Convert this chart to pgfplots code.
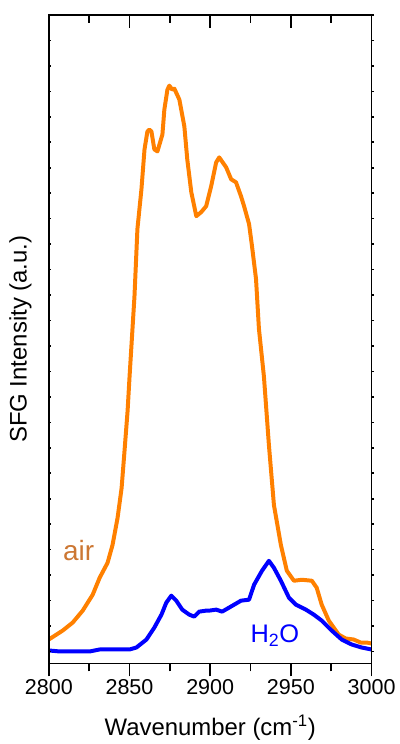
\documentclass[border=0pt]{standalone}
\usepackage{pgfplots}
\pgfplotsset{compat=1.18}
\usepackage{fontspec}
\setmainfont{Liberation Sans}
\definecolor{lineorange}{RGB}{255,128,0}
\definecolor{airtext}{RGB}{204,119,51}
\definecolor{lineblue}{RGB}{0,0,255}

\pgfplotstableread{
x y
2800 24
2808.6 33
2814.8 41
2821.0 53
2827.2 69
2831.5 86
2836.4 101
2839.5 119
2842.6 146
2845.1 176
2846.9 213
2848.8 253
2850.0 287
2853.1 369
2854.9 436
2857.4 476
2859.3 516
2861.1 534
2862.3 536
2863.6 534
2865.4 516
2867.3 514
2870.4 531
2871.6 556
2873.5 576
2874.7 580
2876.5 576
2877.8 577
2880.9 566
2884.0 539
2885.8 506
2888.3 473
2891.4 449
2894.4 453
2897.5 459
2900.6 479
2903.7 503
2905.6 508
2909.9 498
2913.0 486
2916.0 483
2919.1 469
2921.0 459
2924.1 441
2925.9 419
2928.4 386
2930.2 336
2933.3 288
2936.4 219
2939.5 159
2943.8 119
2947.5 93
2951.9 83
2956.8 84
2963.0 83
2966.0 76
2969.1 59
2973.5 43
2979.6 29
2984.0 25
2988.9 24
2993.2 21
2996.9 21
3000 20
}\airdata

\pgfplotstableread{
x y
2800 13
2806.8 12
2825.3 12
2831.5 14
2850.0 14
2854.3 16
2860.5 24
2865.4 36
2869.8 49
2872.8 61
2875.9 68
2879.0 63
2882.7 54
2887.0 49
2890.1 47
2893.2 52
2897.5 53
2899.4 53
2903.7 54
2907.4 52
2911.7 56
2919.1 63
2924.1 64
2927.2 79
2932.1 93
2936.4 103
2939.5 96
2943.8 83
2948.8 66
2953.1 59
2959.3 54
2964.2 49
2969.1 43
2975.3 33
2981.5 24
2987.7 19
2993.8 16
3000 14
}\waterdata

\begin{document}
\begin{tikzpicture}
\pgfplotsset{
  base/.style={scale only axis, width=324pt, height=651pt,
    xmin=2800, xmax=3000, ymin=0, ymax=651,
    axis line style={line width=1.6pt, black},
    tick style={line width=1.6pt, black},
    /pgf/number format/assume math mode=true,
    /pgf/number format/1000 sep={}},
}
% main axis: data, bottom ticks outward, labels
\begin{axis}[base,
  xtick={2800,2850,...,3000}, minor x tick num=1,
  xtick pos=bottom, tick align=outside,
  major tick length=13pt, minor tick length=8pt,
  ytick=\empty,
  xticklabel style={font=\fontsize{21.6}{25}\selectfont},
  xlabel={Wavenumber (cm\textsuperscript{-1})},
  ylabel={SFG Intensity (a.u.)},
  xlabel style={font=\fontsize{24}{28}\selectfont, at={(axis description cs:0.5,-0.1115)}, anchor=base},
  ylabel style={font=\fontsize{24}{28}\selectfont, at={(axis description cs:-0.088,0.5)}, anchor=center},
]
\addplot[lineorange, line width=4pt, line join=round] table[x=x,y=y]{\airdata};
\addplot[lineblue, line width=4pt, line join=round] table[x=x,y=y]{\waterdata};
\node[anchor=base, text=airtext, font=\fontsize{28}{32}\selectfont] at (axis cs:2818.5,103) {air};
\node[anchor=base, text=lineblue, font=\fontsize{25.5}{29}\selectfont] at (axis cs:2940.1,21) {H\textsubscript{2}O};
\end{axis}
% top ticks inward
\begin{axis}[base,
  xtick={2800,2850,...,3000}, minor x tick num=1,
  xtick pos=top, tick align=inside, xticklabels={},
  major tick length=13pt, minor tick length=8pt,
  ytick=\empty]
\end{axis}
% left y ticks inward
\begin{axis}[base, xtick=\empty,
  ytick={12,37.56,...,652}, ytick pos=left, tick align=inside,
  yticklabels={}, major tick length=2.5pt]
\end{axis}
% right y ticks outward
\begin{axis}[base, xtick=\empty,
  ytick={12,37.56,...,652}, ytick pos=right, tick align=outside,
  yticklabels={}, major tick length=2.5pt]
\end{axis}
\path ([xshift=-49pt,yshift=-78pt]current axis.south west) rectangle ([xshift=28pt,yshift=15pt]current axis.north east);
\end{tikzpicture}
\end{document}
